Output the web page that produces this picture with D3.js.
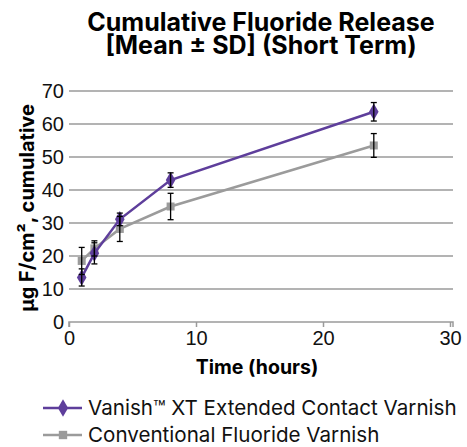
<!DOCTYPE html>
<html>
<head>
<meta charset="utf-8">
<script src="https://cdn.jsdelivr.net/npm/d3@7"></script>
<style>
  body { margin: 0; background: #fff; }
  text { font-family: "Liberation Sans", Arial, sans-serif; }
  .ttl { font-family: Inter, "Noto Sans", sans-serif; font-weight: 700; }
  .lgd { font-family: Inter, "Noto Sans", sans-serif; }
</style>
</head>
<body>
<svg id="chart" width="467" height="447"></svg>
<script>
// data
const hours = [1, 2, 4, 8, 24];
const vanishMean = [13.5, 20.8, 31.1, 43.0, 63.7];
const vanishSD = [2.6, 3.2, 1.9, 2.2, 2.8];
const convMean = [18.5, 22.3, 28.2, 35.0, 53.5];
const convSD = [4.1, 2.3, 3.8, 4.0, 3.6];
const xTicks = [0, 10, 20, 30];
const yTicks = [0, 10, 20, 30, 40, 50, 60, 70];
const titleLines = ["Cumulative Fluoride Release", "[Mean ± SD] (Short Term)"];
const seriesNames = ["Vanish™ XT Extended Contact Varnish", "Conventional Fluoride Varnish"];
const seriesColors = ["#5e3e9b", "#9b9b9b"];

const svg = d3.select("#chart");
const x = d3.scaleLinear().domain([0, 30]).range([69, 450]);
const y = d3.scaleLinear().domain([0, 70]).range([322, 91]);

// title, one text block with two lines
const title = svg.append("text").attr("class", "ttl").attr("y", 31)
  .attr("text-anchor", "middle").attr("font-size", 25);
titleLines.forEach((t, i) => {
  title.append("tspan").attr("x", 261).attr("dy", i === 0 ? 0 : 22.5).text(t);
});

// gridlines
svg.append("g").selectAll("line").data(yTicks.slice(1)).join("line")
  .attr("x1", 69).attr("x2", 453).attr("y1", d => y(d)).attr("y2", d => y(d))
  .attr("stroke", "#9a9a9a").attr("stroke-width", 1.5);

// x axis
const xAxis = svg.append("g").attr("transform", `translate(0,${y(0)})`)
  .call(d3.axisBottom(x).tickValues(xTicks).tickSize(5).tickPadding(4));
xAxis.select(".domain").attr("stroke", "#9a9a9a").attr("stroke-width", 1.5)
  .attr("d", `M${x(0)},5V0H453V5`);
xAxis.selectAll(".tick line").attr("stroke", "#9a9a9a").attr("stroke-width", 1.5);
xAxis.selectAll(".tick text").attr("font-size", 20).attr("fill", "#111")
  .attr("font-family", "Liberation Sans, Arial, sans-serif");

// y axis (labels only)
const yAxis = svg.append("g").attr("transform", `translate(${x(0)},0)`)
  .call(d3.axisLeft(y).tickValues(yTicks).tickSize(0).tickPadding(5));
yAxis.select(".domain").remove();
yAxis.selectAll(".tick text").attr("font-size", 20).attr("fill", "#111")
  .attr("font-family", "Liberation Sans, Arial, sans-serif");

// axis titles
svg.append("text").attr("class", "ttl").attr("x", 257).attr("y", 374)
  .attr("text-anchor", "middle").attr("font-size", 19.5).text("Time (hours)");
svg.append("text").attr("class", "ttl")
  .attr("transform", "translate(34,208) rotate(-90)")
  .attr("text-anchor", "middle").attr("font-size", 20).text("μg F/cm², cumulative");

const series = [
  { name: seriesNames[1], mean: convMean, sd: convSD, color: seriesColors[1], shape: d3.symbolSquare, size: 64 },
  { name: seriesNames[0], mean: vanishMean, sd: vanishSD, color: seriesColors[0], shape: d3.symbolDiamond, size: 80 }
];

const line = d3.line().x((d, i) => x(hours[i])).y(d => y(d));

series.forEach(s => {
  const g = svg.append("g");
  g.append("path").attr("d", line(s.mean)).attr("fill", "none")
    .attr("stroke", s.color).attr("stroke-width", 2.5);
  g.selectAll("path.pt").data(s.mean).join("path").attr("class", "pt")
    .attr("transform", (d, i) => `translate(${x(hours[i])},${y(d)})`)
    .attr("d", d3.symbol().type(s.shape).size(s.size)).attr("fill", s.color);
});

// error bars on top
series.forEach(s => {
  const g = svg.append("g").attr("stroke", "#000").attr("stroke-width", 1.3);
  s.mean.forEach((m, i) => {
    const cx = x(hours[i]), y0 = y(m - s.sd[i]), y1 = y(m + s.sd[i]);
    g.append("line").attr("x1", cx).attr("x2", cx).attr("y1", y0).attr("y2", y1);
    g.append("line").attr("x1", cx - 3).attr("x2", cx + 3).attr("y1", y0).attr("y2", y0);
    g.append("line").attr("x1", cx - 3).attr("x2", cx + 3).attr("y1", y1).attr("y2", y1);
  });
});

// legend
const legend = svg.append("g");
[0, 1].forEach(k => {
  const ly = 408 + k * 27;
  legend.append("line").attr("x1", 43).attr("x2", 82).attr("y1", ly).attr("y2", ly)
    .attr("stroke", seriesColors[k]).attr("stroke-width", 2.5);
  legend.append("path").attr("transform", `translate(63,${ly})`)
    .attr("d", d3.symbol().type(k === 0 ? d3.symbolDiamond : d3.symbolSquare).size(k === 0 ? 90 : 70))
    .attr("fill", seriesColors[k]);
  legend.append("text").attr("class", "lgd").attr("x", 88).attr("y", ly + 7)
    .attr("font-size", 20.6).attr("fill", "#111").text(seriesNames[k]);
});
</script>
</body>
</html>
